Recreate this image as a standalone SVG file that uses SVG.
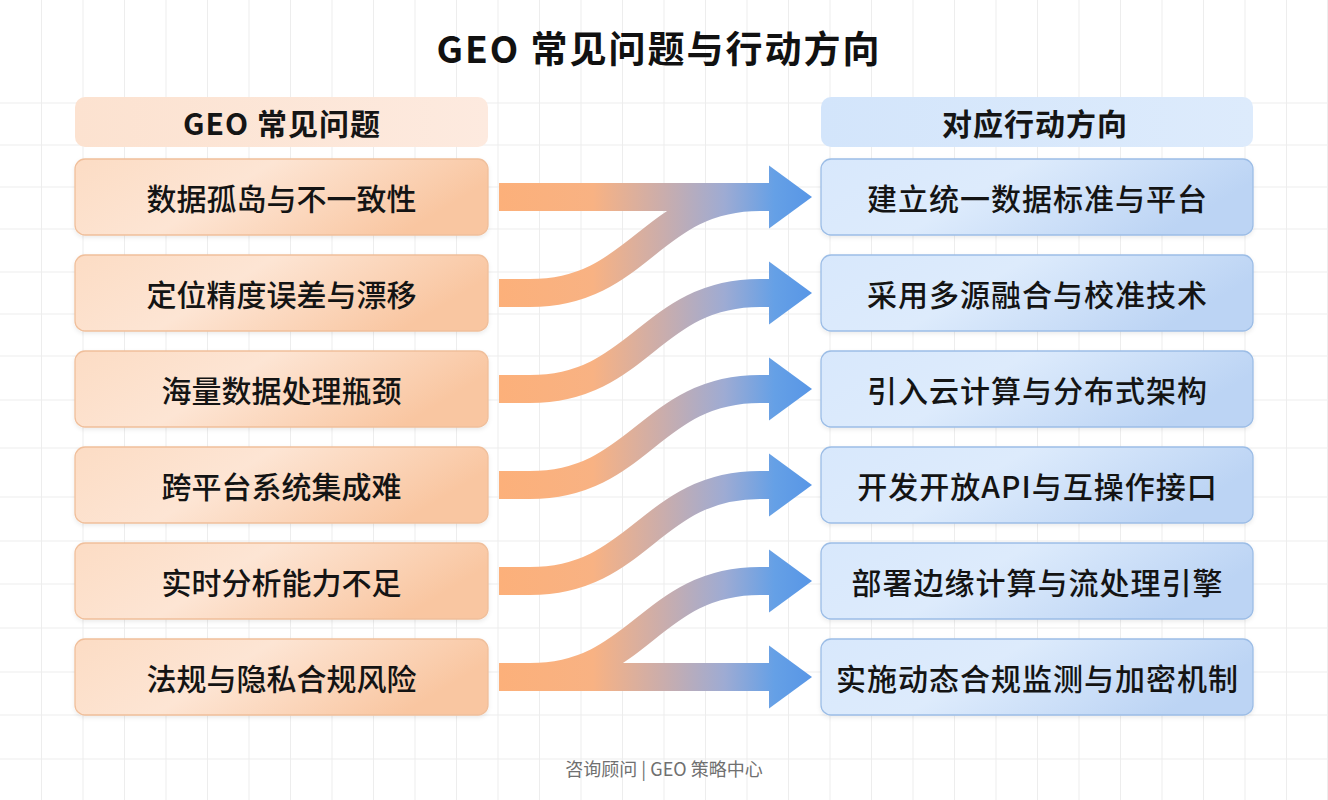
<svg xmlns="http://www.w3.org/2000/svg" width="1328" height="800" viewBox="0 0 1328 800">
  <defs>
    <style>
      .grid line { stroke: #EDEDED; stroke-width: 1; }
      .title { font-family: "Noto Sans CJK SC", "Noto Sans", sans-serif; font-size: 37px; font-weight: 700; fill: #111; letter-spacing: 2px; }
      .head { font-family: "Noto Sans CJK SC", "Noto Sans", sans-serif; font-size: 30px; font-weight: 700; fill: #151515; letter-spacing: 1px; }
      .ltxt { font-family: "Noto Sans CJK SC", "Noto Sans", sans-serif; font-size: 30px; font-weight: 500; fill: #141414; }
      .rtxt { font-family: "Noto Sans CJK SC", "Noto Sans", sans-serif; font-size: 30px; font-weight: 500; fill: #141414; letter-spacing: 1px; }
      .foot { font-family: "Noto Sans CJK SC", "Noto Sans", sans-serif; font-size: 18px; fill: #707070; }
      .lbox { fill: url(#lg); stroke: #F0BF9B; stroke-width: 1.3; filter: url(#sh); }
      .rbox { fill: url(#rg); stroke: #9CBDE6; stroke-width: 1.3; filter: url(#sh); }
      .band { fill: none; stroke: url(#ag); stroke-width: 28; }
      .head-tip { fill: url(#ag); }
    </style>
    <linearGradient id="lg" x1="0" y1="0" x2="1" y2="0.3">
      <stop offset="0" stop-color="#FCDCC4"/>
      <stop offset="0.45" stop-color="#FDE5D4"/>
      <stop offset="1" stop-color="#F9C6A1"/>
    </linearGradient>
    <linearGradient id="rg" x1="0" y1="0" x2="1" y2="0.3">
      <stop offset="0" stop-color="#D8E8FC"/>
      <stop offset="0.45" stop-color="#DDEBFC"/>
      <stop offset="1" stop-color="#BCD4F4"/>
    </linearGradient>
    <linearGradient id="lhg" x1="0" y1="0" x2="1" y2="0">
      <stop offset="0" stop-color="#FCE2D0"/>
      <stop offset="1" stop-color="#FDEADF"/>
    </linearGradient>
    <linearGradient id="rhg" x1="0" y1="0" x2="1" y2="0">
      <stop offset="0" stop-color="#D3E5FB"/>
      <stop offset="1" stop-color="#DDEBFC"/>
    </linearGradient>
    <linearGradient id="ag" gradientUnits="userSpaceOnUse" x1="499" y1="0" x2="812" y2="0">
      <stop offset="0" stop-color="#FCB07A"/>
      <stop offset="0.3" stop-color="#F8B283"/>
      <stop offset="0.52" stop-color="#CBADAB"/>
      <stop offset="0.72" stop-color="#9EABD3"/>
      <stop offset="0.88" stop-color="#65A0E6"/>
      <stop offset="1" stop-color="#5896E6"/>
    </linearGradient>
    <filter id="sh" x="-5%" y="-20%" width="110%" height="150%">
      <feDropShadow dx="0" dy="2" stdDeviation="2" flood-color="#000" flood-opacity="0.08"/>
    </filter>
  </defs>

  <rect width="1328" height="800" fill="#FFFFFF"/>
  <g class="grid">
    <line x1="41.5" y1="0" x2="41.5" y2="800"/>
    <line x1="83" y1="0" x2="83" y2="800"/>
    <line x1="124.5" y1="0" x2="124.5" y2="800"/>
    <line x1="166" y1="0" x2="166" y2="800"/>
    <line x1="207.5" y1="0" x2="207.5" y2="800"/>
    <line x1="249" y1="0" x2="249" y2="800"/>
    <line x1="290.5" y1="0" x2="290.5" y2="800"/>
    <line x1="332" y1="0" x2="332" y2="800"/>
    <line x1="373.5" y1="0" x2="373.5" y2="800"/>
    <line x1="415" y1="0" x2="415" y2="800"/>
    <line x1="456.5" y1="0" x2="456.5" y2="800"/>
    <line x1="498" y1="0" x2="498" y2="800"/>
    <line x1="539.5" y1="0" x2="539.5" y2="800"/>
    <line x1="581" y1="0" x2="581" y2="800"/>
    <line x1="622.5" y1="0" x2="622.5" y2="800"/>
    <line x1="664" y1="0" x2="664" y2="800"/>
    <line x1="705.5" y1="0" x2="705.5" y2="800"/>
    <line x1="747" y1="0" x2="747" y2="800"/>
    <line x1="788.5" y1="0" x2="788.5" y2="800"/>
    <line x1="830" y1="0" x2="830" y2="800"/>
    <line x1="871.5" y1="0" x2="871.5" y2="800"/>
    <line x1="913" y1="0" x2="913" y2="800"/>
    <line x1="954.5" y1="0" x2="954.5" y2="800"/>
    <line x1="996" y1="0" x2="996" y2="800"/>
    <line x1="1037.5" y1="0" x2="1037.5" y2="800"/>
    <line x1="1079" y1="0" x2="1079" y2="800"/>
    <line x1="1120.5" y1="0" x2="1120.5" y2="800"/>
    <line x1="1162" y1="0" x2="1162" y2="800"/>
    <line x1="1203.5" y1="0" x2="1203.5" y2="800"/>
    <line x1="1245" y1="0" x2="1245" y2="800"/>
    <line x1="1286.5" y1="0" x2="1286.5" y2="800"/>
    <line x1="1327.5" y1="0" x2="1327.5" y2="800"/>
    <line x1="0" y1="103" x2="1328" y2="103"/>
    <line x1="0" y1="145" x2="1328" y2="145"/>
    <line x1="0" y1="187" x2="1328" y2="187"/>
    <line x1="0" y1="229" x2="1328" y2="229"/>
    <line x1="0" y1="272" x2="1328" y2="272"/>
    <line x1="0" y1="314" x2="1328" y2="314"/>
    <line x1="0" y1="356" x2="1328" y2="356"/>
    <line x1="0" y1="400" x2="1328" y2="400"/>
    <line x1="0" y1="448" x2="1328" y2="448"/>
    <line x1="0" y1="497" x2="1328" y2="497"/>
    <line x1="0" y1="541" x2="1328" y2="541"/>
    <line x1="0" y1="584" x2="1328" y2="584"/>
    <line x1="0" y1="628" x2="1328" y2="628"/>
    <line x1="0" y1="672" x2="1328" y2="672"/>
    <line x1="0" y1="715" x2="1328" y2="715"/>
    <line x1="0" y1="759" x2="1328" y2="759"/>
  </g>

  <text class="title" x="659" y="63" text-anchor="middle">GEO 常见问题与行动方向</text>

  <g id="header-left">
    <rect x="75" y="97" width="413" height="50" rx="10" fill="url(#lhg)"/>
    <text class="head" x="282" y="122" text-anchor="middle" dominant-baseline="central">GEO 常见问题</text>
  </g>
  <g id="header-right">
    <rect x="821" y="97" width="432" height="50" rx="10" fill="url(#rhg)"/>
    <text class="head" x="1035" y="122" text-anchor="middle" dominant-baseline="central">对应行动方向</text>
  </g>

  <g id="connectors">
    <path class="band" d="M499,197 H770"/>
    <path class="band" d="M499,293 H530 C640,293 650,197 760,197 H770"/>
    <path class="band" d="M499,389 H530 C640,389 650,293 760,293 H770"/>
    <path class="band" d="M499,485 H530 C640,485 650,389 760,389 H770"/>
    <path class="band" d="M499,581 H530 C640,581 650,485 760,485 H770"/>
    <path class="band" d="M499,677 H530 C640,677 650,581 760,581 H770"/>
    <path class="band" d="M499,677 H770"/>
    <polygon class="head-tip" points="769,165.5 812,197 769,228.5"/>
    <polygon class="head-tip" points="769,261.5 812,293 769,324.5"/>
    <polygon class="head-tip" points="769,357.5 812,389 769,420.5"/>
    <polygon class="head-tip" points="769,453.5 812,485 769,516.5"/>
    <polygon class="head-tip" points="769,549.5 812,581 769,612.5"/>
    <polygon class="head-tip" points="769,645.5 812,677 769,708.5"/>
  </g>

  <g id="problem-1">
    <rect class="lbox" x="75" y="159" width="413" height="76" rx="10"/>
    <text class="ltxt" x="281.5" y="197" text-anchor="middle" dominant-baseline="central">数据孤岛与不一致性</text>
  </g>
  <g id="problem-2">
    <rect class="lbox" x="75" y="255" width="413" height="76" rx="10"/>
    <text class="ltxt" x="281.5" y="293" text-anchor="middle" dominant-baseline="central">定位精度误差与漂移</text>
  </g>
  <g id="problem-3">
    <rect class="lbox" x="75" y="351" width="413" height="76" rx="10"/>
    <text class="ltxt" x="281.5" y="389" text-anchor="middle" dominant-baseline="central">海量数据处理瓶颈</text>
  </g>
  <g id="problem-4">
    <rect class="lbox" x="75" y="447" width="413" height="76" rx="10"/>
    <text class="ltxt" x="281.5" y="485" text-anchor="middle" dominant-baseline="central">跨平台系统集成难</text>
  </g>
  <g id="problem-5">
    <rect class="lbox" x="75" y="543" width="413" height="76" rx="10"/>
    <text class="ltxt" x="281.5" y="581" text-anchor="middle" dominant-baseline="central">实时分析能力不足</text>
  </g>
  <g id="problem-6">
    <rect class="lbox" x="75" y="639" width="413" height="76" rx="10"/>
    <text class="ltxt" x="281.5" y="677" text-anchor="middle" dominant-baseline="central">法规与隐私合规风险</text>
  </g>

  <g id="action-1">
    <rect class="rbox" x="821" y="159" width="432" height="76" rx="10"/>
    <text class="rtxt" x="1037.5" y="197" text-anchor="middle" dominant-baseline="central">建立统一数据标准与平台</text>
  </g>
  <g id="action-2">
    <rect class="rbox" x="821" y="255" width="432" height="76" rx="10"/>
    <text class="rtxt" x="1037.5" y="293" text-anchor="middle" dominant-baseline="central">采用多源融合与校准技术</text>
  </g>
  <g id="action-3">
    <rect class="rbox" x="821" y="351" width="432" height="76" rx="10"/>
    <text class="rtxt" x="1037.5" y="389" text-anchor="middle" dominant-baseline="central">引入云计算与分布式架构</text>
  </g>
  <g id="action-4">
    <rect class="rbox" x="821" y="447" width="432" height="76" rx="10"/>
    <text class="rtxt" x="1037.5" y="485" text-anchor="middle" dominant-baseline="central">开发开放API与互操作接口</text>
  </g>
  <g id="action-5">
    <rect class="rbox" x="821" y="543" width="432" height="76" rx="10"/>
    <text class="rtxt" x="1037.5" y="581" text-anchor="middle" dominant-baseline="central">部署边缘计算与流处理引擎</text>
  </g>
  <g id="action-6">
    <rect class="rbox" x="821" y="639" width="432" height="76" rx="10"/>
    <text class="rtxt" x="1037.5" y="677" text-anchor="middle" dominant-baseline="central">实施动态合规监测与加密机制</text>
  </g>

  <text class="foot" x="664" y="776" text-anchor="middle">咨询顾问 | GEO 策略中心</text>
</svg>
